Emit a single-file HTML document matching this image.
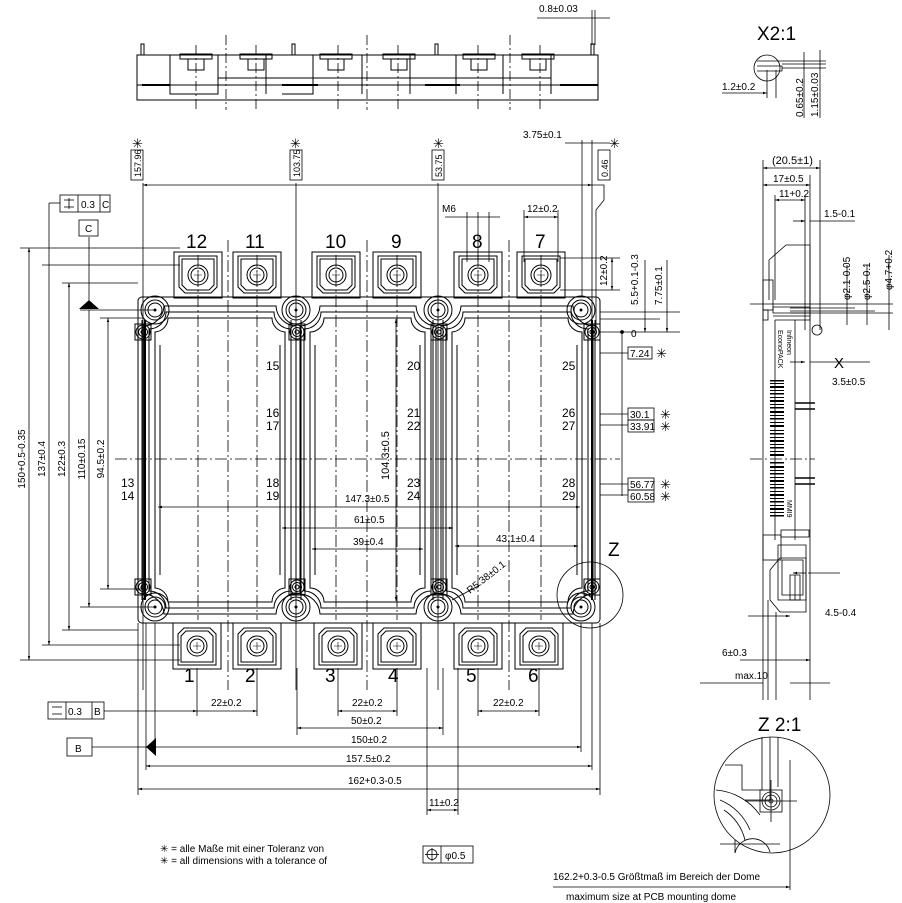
<!DOCTYPE html>
<html><head><meta charset="utf-8"><style>
html,body{margin:0;padding:0;background:#fff}
svg{display:block}
text{font-family:"Liberation Sans",sans-serif;fill:#000}
.s{font-size:10px}
.m{font-size:12px}
.b{font-size:19px;font-weight:300}
</style></head><body>
<svg width="902" height="903" viewBox="0 0 902 903" xmlns="http://www.w3.org/2000/svg">
<defs>
<g id="term" fill="none" stroke="#000" stroke-width="1">
<rect x="-24" y="-23" width="48" height="46"/>
<path d="M-19,-19 H19 V12 L13,18 H-13 L-19,12 Z"/>
<path d="M-16,-16 H16 V10 L11,15 H-11 L-16,10 Z"/>
<circle r="10"/><circle r="7"/>
<path d="M-4,0 H4 M0,-4 V4" stroke-width="0.6"/>
</g>
<g id="bh" fill="none" stroke="#000">
<circle r="14"/><circle r="10"/><circle r="7"/>
<circle r="1" fill="#000"/>
</g>
<g id="sh" fill="none" stroke="#000">
<rect x="-8" y="-8" width="16" height="16"/>
<circle r="7"/><circle r="4.5"/><circle r="2"/>
</g>
<marker id="a" viewBox="0 0 10 10" refX="10" refY="5" markerWidth="7" markerHeight="5" orient="auto-start-reverse"><path d="M0,2 L10,5 L0,8 Z" fill="#000"/></marker>
</defs>

<!-- TOP SIDE VIEW -->
<g fill="none" stroke="#000" stroke-width="1">
<rect x="137" y="55" width="461" height="45"/>
<line x1="137" y1="85" x2="598" y2="85"/>
<rect x="141" y="44" width="3" height="11"/><rect x="292" y="44" width="3" height="11"/><rect x="435" y="44" width="3" height="11"/><rect x="591" y="44" width="3" height="11"/>
<path d="M170,55 V94 H218 V55 M218,78 H266 V94 M266,55 V94 M266,78 H313 V94 H282 M313,55 V94 M313,78 H362 V94 M362,55 V94 M362,78 H410 V94 M410,55 V94 M410,78 H456 V94 M456,55 V94 M456,78 H503 V94 M503,55 V94 M503,78 H551 V94 M551,55 V94"/>
<path d="M180,54 H212 V59 H180 Z M188,59 V70 H204 V59"/>
<path d="M240,54 H272 V59 H240 Z M248,59 V70 H264 V59"/>
<path d="M320,54 H352 V59 H320 Z M328,59 V70 H344 V59"/>
<path d="M383,54 H415 V59 H383 Z M391,59 V70 H407 V59"/>
<path d="M463,54 H495 V59 H463 Z M471,59 V70 H487 V59"/>
<path d="M522,54 H554 V59 H522 Z M530,59 V70 H546 V59"/>
<path d="M142,85 H170 M282,85 H318 M425,85 H460 M560,85 H598" stroke-width="2"/>
</g>
<g stroke="#000" stroke-dasharray="10,3,2,3" stroke-width="0.8">
<line x1="226" y1="35" x2="226" y2="110"/><line x1="367" y1="35" x2="367" y2="110"/><line x1="510" y1="35" x2="510" y2="110"/>
<line x1="196" y1="45" x2="196" y2="110"/><line x1="256" y1="45" x2="256" y2="110"/><line x1="338" y1="45" x2="338" y2="110"/><line x1="398" y1="45" x2="398" y2="110"/><line x1="478" y1="45" x2="478" y2="110"/><line x1="540" y1="45" x2="540" y2="110"/>
</g>
<text x="539" y="12" class="s">0.8±0.03</text>
<line x1="537" y1="18" x2="610" y2="18" stroke="#000" stroke-width="0.8"/>
<line x1="592" y1="10" x2="592" y2="45" stroke="#000" stroke-width="0.8"/><line x1="595" y1="10" x2="595" y2="45" stroke="#000" stroke-width="0.8"/>

<!-- MAIN BODY -->
<g fill="none" stroke="#000" stroke-width="1">
<rect x="138" y="297" width="462" height="326" rx="4"/>
<line x1="291" y1="320" x2="291" y2="600"/><line x1="301" y1="320" x2="301" y2="600"/>
<line x1="433" y1="320" x2="433" y2="600"/><line x1="443" y1="320" x2="443" y2="600"/>
<line x1="142" y1="320" x2="142" y2="600"/><line x1="145" y1="320" x2="145" y2="600" stroke-width="2"/>
<line x1="595" y1="320" x2="595" y2="600"/><line x1="592" y1="320" x2="592" y2="600" stroke-width="2"/>
<!-- window 1 -->
<path d="M168,318 H272 A14,14 0 0 0 285,332 V588 A14,14 0 0 0 272,602 H168 A14,14 0 0 0 155,588 V332 A14,14 0 0 0 168,318 Z"/>
<path d="M166,312 H274 A17,17 0 0 0 291,329 V591 A17,17 0 0 0 274,608 H166 A17,17 0 0 0 149,591 V329 A17,17 0 0 0 166,312 Z"/>
<path d="M164,306 H276 A21,21 0 0 0 296,326 V594 A21,21 0 0 0 276,614 H164 A21,21 0 0 0 144,594 V326 A21,21 0 0 0 164,306 Z"/>
<path d="M160,345 V575 M280,345 V575"/>
<!-- window 2 -->
<path d="M324,318 H411 A14,14 0 0 0 425,332 V588 A14,14 0 0 0 411,602 H324 A14,14 0 0 0 310,588 V332 A14,14 0 0 0 324,318 Z"/>
<path d="M321,312 H414 A17,17 0 0 0 431,329 V591 A17,17 0 0 0 414,608 H321 A17,17 0 0 0 304,591 V329 A17,17 0 0 0 321,312 Z"/>
<path d="M320,306 H416 A21,21 0 0 0 436,326 V594 A21,21 0 0 0 416,614 H320 A21,21 0 0 0 300,594 V326 A21,21 0 0 0 320,306 Z"/>
<path d="M315,345 V575 M420,345 V575"/>
<!-- window 3 -->
<path d="M465,318 H568 A14,14 0 0 0 582,332 V588 A14,14 0 0 0 568,602 H465 A14,14 0 0 0 452,588 V332 A14,14 0 0 0 465,318 Z"/>
<path d="M463,312 H571 A17,17 0 0 0 588,329 V591 A17,17 0 0 0 571,608 H463 A17,17 0 0 0 446,591 V329 A17,17 0 0 0 463,312 Z"/>
<path d="M461,306 H573 A21,21 0 0 0 593,326 V594 A21,21 0 0 0 573,614 H461 A21,21 0 0 0 441,594 V326 A21,21 0 0 0 461,306 Z"/>
<path d="M457,345 V575 M577,345 V575"/>
</g>
<use href="#bh" x="155" y="310"/><use href="#bh" x="296" y="310"/><use href="#bh" x="438" y="310"/><use href="#bh" x="581" y="310"/>
<use href="#bh" x="155" y="607"/><use href="#bh" x="296" y="607"/><use href="#bh" x="438" y="607"/><use href="#bh" x="581" y="607"/>
<use href="#sh" x="143" y="332"/><use href="#sh" x="297" y="332"/><use href="#sh" x="439" y="332"/><use href="#sh" x="592" y="332"/>
<use href="#sh" x="143" y="587"/><use href="#sh" x="297" y="587"/><use href="#sh" x="439" y="587"/><use href="#sh" x="592" y="587"/>
<!-- terminals -->
<use href="#term" x="198" y="275"/><use href="#term" x="257" y="275"/><use href="#term" x="336" y="275"/><use href="#term" x="397" y="275"/><use href="#term" x="478" y="275"/><use href="#term" x="541" y="275"/>
<use href="#term" transform="translate(197,646) scale(1,-1)"/><use href="#term" transform="translate(257,646) scale(1,-1)"/><use href="#term" transform="translate(338,646) scale(1,-1)"/><use href="#term" transform="translate(397,646) scale(1,-1)"/><use href="#term" transform="translate(478,646) scale(1,-1)"/><use href="#term" transform="translate(539,646) scale(1,-1)"/>
<!-- centre lines -->
<g stroke="#000" stroke-dasharray="12,3,2,3" stroke-width="0.8">
<line x1="115" y1="459" x2="620" y2="459"/>
<line x1="228" y1="240" x2="228" y2="690"/><line x1="367" y1="240" x2="367" y2="690"/><line x1="509" y1="240" x2="509" y2="690"/>
<line x1="198" y1="255" x2="198" y2="620"/><line x1="257" y1="255" x2="257" y2="620"/><line x1="336" y1="255" x2="336" y2="620"/><line x1="397" y1="255" x2="397" y2="620"/><line x1="478" y1="255" x2="478" y2="620"/><line x1="541" y1="255" x2="541" y2="620"/>
</g>
<!-- pin labels -->
<g class="b"><text x="186" y="248" class="b">12</text><text x="245" y="248" class="b">11</text><text x="325" y="248" class="b">10</text><text x="391" y="248" class="b">9</text><text x="472" y="248" class="b">8</text><text x="535" y="248" class="b">7</text>
<text x="184" y="682" class="b">1</text><text x="245" y="682" class="b">2</text><text x="325" y="682" class="b">3</text><text x="388" y="682" class="b">4</text><text x="466" y="682" class="b">5</text><text x="528" y="682" class="b">6</text></g>
<g class="m">
<text x="266" y="370">15</text><text x="266" y="417">16</text><text x="266" y="430">17</text><text x="266" y="487">18</text><text x="266" y="500">19</text>
<text x="407" y="370">20</text><text x="407" y="417">21</text><text x="407" y="430">22</text><text x="407" y="487">23</text><text x="407" y="500">24</text>
<text x="562" y="370">25</text><text x="562" y="417">26</text><text x="562" y="430">27</text><text x="562" y="487">28</text><text x="562" y="500">29</text>
<text x="121" y="487">13</text><text x="121" y="500">14</text>
</g>
<!-- internal dims -->
<g stroke="#000" stroke-width="0.8" fill="none">
<line x1="158" y1="507" x2="580" y2="507" marker-start="url(#a)" marker-end="url(#a)"/>
<line x1="282" y1="528" x2="453" y2="528" marker-start="url(#a)" marker-end="url(#a)"/>
<line x1="312" y1="549" x2="423" y2="549" marker-start="url(#a)" marker-end="url(#a)"/>
<line x1="455" y1="546" x2="578" y2="546" marker-start="url(#a)" marker-end="url(#a)"/>
<line x1="396" y1="319" x2="396" y2="601" marker-start="url(#a)" marker-end="url(#a)"/>
<line x1="452" y1="600" x2="480" y2="585"/>
</g>
<g class="s"><text x="345" y="502">147.3±0.5</text><text x="354" y="523">61±0.5</text><text x="353" y="545">39±0.4</text><text x="496" y="542">43.1±0.4</text>
<text transform="translate(389,480) rotate(-90)" font-size="11">104.3±0.5</text>
<text transform="translate(470,594) rotate(-38)">R5.38±0.1</text></g>
<circle cx="590" cy="595" r="33" fill="none" stroke="#000" stroke-width="0.8"/>
<text x="608" y="556" class="b" font-size="17">Z</text>

<!-- top datum dims -->
<g stroke="#000" stroke-width="0.8" fill="none">
<line x1="143" y1="183" x2="143" y2="690"/><line x1="296" y1="183" x2="296" y2="690"/><line x1="438" y1="183" x2="438" y2="690"/>
<line x1="143" y1="185" x2="592" y2="185" marker-start="url(#a)" marker-end="url(#a)"/>
<line x1="582" y1="140" x2="582" y2="297"/><line x1="592" y1="140" x2="592" y2="330"/>
<line x1="565" y1="143" x2="610" y2="143"/>
<path d="M592,185 H604 V200 L596,210 V330"/>
<rect x="131" y="150" width="12" height="30"/><rect x="290" y="150" width="12" height="30"/><rect x="432" y="150" width="12" height="30"/><rect x="598" y="150" width="12" height="30"/>
<line x1="478" y1="212" x2="478" y2="262"/><line x1="467" y1="212" x2="467" y2="262"/><line x1="489" y1="212" x2="489" y2="262"/>
<line x1="445" y1="217" x2="500" y2="217"/>
<line x1="524" y1="217" x2="558" y2="217" marker-start="url(#a)" marker-end="url(#a)"/>
<line x1="524" y1="210" x2="524" y2="262"/><line x1="558" y1="210" x2="558" y2="262"/>
</g>
<g class="s">
<text transform="translate(141,177) rotate(-90)" font-size="9">157.96</text><text transform="translate(300,177) rotate(-90)" font-size="9">103.75</text><text transform="translate(442,177) rotate(-90)" font-size="9">53.75</text><text transform="translate(608,177) rotate(-90)" font-size="9">0.46</text>
<text x="523" y="138">3.75±0.1</text><text x="442" y="212">M6</text><text x="527" y="212">12±0.2</text>
</g>
<g font-size="13"><text x="132" y="148">✳</text><text x="290" y="148">✳</text><text x="433" y="148">✳</text><text x="609" y="148">✳</text></g>
<!-- right of body dims -->
<g stroke="#000" stroke-width="0.8" fill="none">
<line x1="560" y1="258" x2="620" y2="258"/><line x1="560" y1="290" x2="620" y2="290"/>
<line x1="612" y1="258" x2="612" y2="290" marker-start="url(#a)" marker-end="url(#a)"/>
<line x1="600" y1="312" x2="680" y2="312"/><line x1="600" y1="319" x2="660" y2="319"/><line x1="600" y1="332" x2="680" y2="332"/>
<line x1="645" y1="260" x2="645" y2="332" marker-end="url(#a)"/>
<line x1="667" y1="260" x2="667" y2="332" marker-end="url(#a)"/>
<line x1="622" y1="332" x2="622" y2="496"/><circle cx="622" cy="332" r="1.5" fill="#000"/>
<line x1="600" y1="353" x2="628" y2="353"/><line x1="600" y1="414" x2="628" y2="414"/><line x1="600" y1="425" x2="628" y2="425"/><line x1="600" y1="484" x2="628" y2="484"/><line x1="600" y1="495" x2="628" y2="495"/>
<rect x="628" y="347" width="24" height="12"/><rect x="628" y="408" width="26" height="12"/><rect x="628" y="420" width="26" height="12"/><rect x="628" y="478" width="26" height="12"/><rect x="628" y="490" width="26" height="12"/>
</g>
<g class="s">
<text transform="translate(607,286) rotate(-90)">12±0.2</text><text transform="translate(638,305) rotate(-90)">5.5+0.1-0.3</text><text transform="translate(662,305) rotate(-90)">7.75±0.1</text>
<text x="630" y="357">7.24</text><text x="630" y="418">30.1</text><text x="630" y="430">33.91</text><text x="630" y="488">56.77</text><text x="630" y="500">60.58</text>
<text x="631" y="337">0</text>
</g>
<g font-size="13"><text x="656" y="358">✳</text><text x="660" y="419">✳</text><text x="660" y="431">✳</text><text x="660" y="489">✳</text><text x="660" y="501">✳</text></g>

<!-- LEFT DIMS -->
<g stroke="#000" stroke-width="0.8" fill="none">
<line x1="20" y1="248" x2="180" y2="248"/><line x1="20" y1="660" x2="180" y2="660"/>
<line x1="29" y1="248" x2="29" y2="660" marker-start="url(#a)" marker-end="url(#a)"/>
<line x1="42" y1="265" x2="180" y2="265"/><line x1="42" y1="645" x2="180" y2="645"/>
<line x1="49" y1="203" x2="49" y2="645" marker-end="url(#a)"/><path d="M49,203 H60"/>
<line x1="62" y1="283" x2="138" y2="283"/><line x1="62" y1="630" x2="138" y2="630"/>
<line x1="69" y1="283" x2="69" y2="630" marker-start="url(#a)" marker-end="url(#a)"/>
<line x1="80" y1="310" x2="155" y2="310"/><line x1="80" y1="607" x2="155" y2="607"/>
<line x1="89" y1="310" x2="89" y2="607" marker-end="url(#a)"/>
<line x1="89" y1="237" x2="89" y2="300"/>
<line x1="100" y1="318" x2="143" y2="318"/><line x1="100" y1="589" x2="143" y2="589"/>
<line x1="108" y1="318" x2="108" y2="589" marker-start="url(#a)" marker-end="url(#a)"/>
<rect x="60" y="195" width="50" height="17"/><line x1="78" y1="195" x2="78" y2="212"/><line x1="100" y1="195" x2="100" y2="212"/>
<line x1="64" y1="200" x2="74" y2="200"/><line x1="64" y1="207" x2="74" y2="207"/><line x1="69" y1="198" x2="69" y2="209"/>
<rect x="79" y="220" width="19" height="16"/>
</g>
<path d="M79,309 L99,309 L89,300 Z" fill="#000"/>
<g class="s" font-size="9" text-anchor="middle">
<text x="81" y="208" text-anchor="start" font-size="10">0.3</text><text x="102" y="208" text-anchor="start" font-size="10">C</text><text x="85" y="232" text-anchor="start" font-size="10">C</text>
<text transform="translate(25,459) rotate(-90)">150+0.5-0.35</text>
<text transform="translate(45,459) rotate(-90)">137±0.4</text>
<text transform="translate(65,459) rotate(-90)">122±0.3</text>
<text transform="translate(85,459) rotate(-90)">110±0.15</text>
<text transform="translate(104,459) rotate(-90)">94.5±0.2</text>
</g>

<!-- BOTTOM DIMS -->
<g stroke="#000" stroke-width="0.8" fill="none">
<line x1="138" y1="623" x2="138" y2="795"/><line x1="146" y1="623" x2="146" y2="770"/><line x1="155" y1="623" x2="155" y2="752"/>
<line x1="600" y1="623" x2="600" y2="795"/><line x1="592" y1="623" x2="592" y2="770"/><line x1="581" y1="623" x2="581" y2="752"/>
<line x1="197" y1="668" x2="197" y2="716"/><line x1="257" y1="668" x2="257" y2="716"/><line x1="338" y1="668" x2="338" y2="716"/><line x1="397" y1="668" x2="397" y2="716"/><line x1="478" y1="668" x2="478" y2="716"/><line x1="539" y1="668" x2="539" y2="716"/>
<line x1="297" y1="668" x2="297" y2="735"/><line x1="443" y1="668" x2="443" y2="735"/>
<line x1="427" y1="668" x2="427" y2="815"/><line x1="458" y1="668" x2="458" y2="815"/>
<line x1="104" y1="711" x2="197" y2="711" marker-end="url(#a)"/>
<line x1="197" y1="711" x2="257" y2="711" marker-end="url(#a)"/>
<line x1="338" y1="711" x2="397" y2="711" marker-start="url(#a)" marker-end="url(#a)"/>
<line x1="478" y1="711" x2="539" y2="711" marker-start="url(#a)" marker-end="url(#a)"/>
<line x1="297" y1="728" x2="443" y2="728" marker-start="url(#a)" marker-end="url(#a)"/>
<line x1="92" y1="747" x2="148" y2="747"/>
<line x1="155" y1="747" x2="581" y2="747" marker-end="url(#a)"/>
<line x1="146" y1="766" x2="592" y2="766" marker-start="url(#a)" marker-end="url(#a)"/>
<line x1="138" y1="789" x2="600" y2="789" marker-start="url(#a)" marker-end="url(#a)"/>
<line x1="427" y1="810" x2="458" y2="810" marker-start="url(#a)" marker-end="url(#a)"/>
<rect x="48" y="702" width="56" height="17"/><line x1="66" y1="702" x2="66" y2="719"/><line x1="92" y1="702" x2="92" y2="719"/>
<line x1="52" y1="707" x2="62" y2="707"/><line x1="52" y1="714" x2="62" y2="714"/>
<rect x="67" y="738" width="25" height="18"/>
</g>
<path d="M146,747 L156,738 L156,756 Z" fill="#000"/>
<g class="s">
<text x="68" y="715">0.3</text><text x="94" y="715">B</text><text x="75" y="752">B</text>
<text x="211" y="706">22±0.2</text><text x="352" y="706">22±0.2</text><text x="493" y="706">22±0.2</text>
<text x="351" y="724">50±0.2</text><text x="351" y="743">150±0.2</text><text x="346" y="762">157.5±0.2</text><text x="348" y="784">162+0.3-0.5</text><text x="429" y="806">11±0.2</text>
</g>
<g class="s" font-size="11">
<text x="160" y="852">✳ = alle Maße mit einer Toleranz von</text>
<text x="160" y="864">✳ = all dimensions with a tolerance of</text>
</g>
<g stroke="#000" stroke-width="0.8" fill="none"><rect x="423" y="846" width="50" height="17"/><line x1="441" y1="846" x2="441" y2="863"/><circle cx="432" cy="854.5" r="5"/><line x1="425" y1="854.5" x2="439" y2="854.5"/><line x1="432" y1="848" x2="432" y2="861"/></g>
<text x="445" y="859" class="s">φ0.5</text>
<text x="553" y="880" class="s" font-size="11">162.2+0.3-0.5 Größtmaß im Bereich der Dome</text>
<text x="566" y="900" class="s" font-size="11">maximum size at PCB mounting dome</text>
<g stroke="#000" stroke-width="0.8" fill="none">
<line x1="553" y1="887" x2="790" y2="887" marker-end="url(#a)"/><line x1="790" y1="760" x2="790" y2="890"/>
<circle cx="772" cy="795" r="58"/>
<path d="M762,737 V790 H742 V765 H725 M770,737 V800 H745 M778,737 V787"/>
<rect x="760" y="790" width="22" height="22"/><circle cx="771" cy="801" r="9"/><circle cx="771" cy="801" r="6"/><circle cx="771" cy="801" r="2"/>
<path d="M716,790 A60,60 0 0 1 760,815 M720,800 A55,55 0 0 1 750,830 M724,810 A50,50 0 0 1 745,840 M735,853 A18,18 0 0 1 770,852"/>
<path d="M745,801 H797 M771,780 V822 M735,840 V853 M720,844 H780"/>
</g>
<text x="758" y="731" class="b" font-size="15">Z 2:1</text>

<!-- X detail -->
<text x="757" y="40" class="b" font-size="15">X2:1</text>
<g stroke="#000" stroke-width="0.8" fill="none">
<circle cx="767" cy="68" r="13"/>
<path d="M757,61 H826 M757,66 H782 V71 H757 M782,64 H826 M782,68 H826"/>
<line x1="722" y1="93" x2="767" y2="93" marker-end="url(#a)"/>
<line x1="767" y1="70" x2="767" y2="98"/><line x1="776" y1="70" x2="776" y2="98"/>
<line x1="804" y1="52" x2="804" y2="118"/><line x1="820" y1="50" x2="820" y2="118"/>
</g>
<g class="s"><text x="722" y="90">1.2±0.2</text><text transform="translate(803,117) rotate(-90)">0.65±0.2</text><text transform="translate(818,117) rotate(-90)">1.15±0.03</text></g>

<!-- RIGHT SIDE VIEW -->
<g stroke="#000" stroke-width="0.8" fill="none">
<line x1="763" y1="160" x2="763" y2="700"/><line x1="820" y1="160" x2="820" y2="330"/><line x1="810" y1="175" x2="810" y2="700"/>
<line x1="763" y1="168" x2="820" y2="168" marker-start="url(#a)" marker-end="url(#a)"/>
<line x1="763" y1="185" x2="810" y2="185" marker-start="url(#a)" marker-end="url(#a)"/>
<line x1="775" y1="200" x2="805" y2="200" marker-start="url(#a)" marker-end="url(#a)"/>
<line x1="775" y1="195" x2="775" y2="300"/><line x1="805" y1="195" x2="805" y2="330"/>
<line x1="793" y1="221" x2="805" y2="221" marker-end="url(#a)"/><line x1="810" y1="221" x2="855" y2="221"/>
<rect x="763" y="280" width="10" height="30"/><rect x="763" y="310" width="5" height="10"/>
<path d="M769,300 V260 L786,245 H810 V320 H775"/>
<path d="M773,307 H810 V313 H773 Z M773,313 H810 V316 H773"/>
<line x1="750" y1="304" x2="893" y2="304"/><line x1="790" y1="308" x2="855" y2="308"/><line x1="790" y1="311" x2="875" y2="311"/><line x1="790" y1="313" x2="893" y2="313"/>
<line x1="847" y1="265" x2="847" y2="325"/><line x1="867" y1="265" x2="867" y2="325"/><line x1="889" y1="255" x2="889" y2="330"/>
<circle cx="817" cy="330" r="5"/>
<line x1="810" y1="362" x2="870" y2="362"/><line x1="790" y1="362" x2="805" y2="362" marker-end="url(#a)"/>
<line x1="775" y1="320" x2="775" y2="540"/><line x1="795" y1="320" x2="795" y2="540"/>
<rect x="763" y="535" width="18" height="25"/><rect x="781" y="530" width="28" height="7"/>
<path d="M778,545 H806 V600 H778 Z M782,560 H803 V595 H782 Z"/>
<line x1="808" y1="573" x2="840" y2="573"/><line x1="793" y1="573" x2="806" y2="573" marker-start="url(#a)"/>
<path d="M770,570 L780,558 H806 V612 H780 L770,600 Z"/>
<path d="M790,575 H800 V600 H790 Z M795,575 V600"/>
<line x1="748" y1="616" x2="790" y2="616" marker-end="url(#a)"/>
<line x1="768" y1="600" x2="768" y2="700"/><line x1="776" y1="612" x2="776" y2="700"/>
<line x1="740" y1="660" x2="810" y2="660" marker-end="url(#a)"/><line x1="700" y1="683" x2="763" y2="683"/><line x1="790" y1="683" x2="830" y2="683"/>
<line x1="750" y1="459" x2="815" y2="459" stroke-dasharray="12,3,2,3"/>
<path d="M795,403 H815 M795,409 H815 M795,478 H815 M795,484 H815" stroke-width="1.5"/>
</g>
<!-- barcode -->
<g fill="#000">
<rect x="770" y="380" width="14" height="1.5"/><rect x="770" y="383" width="14" height="1"/><rect x="770" y="386" width="14" height="2"/><rect x="770" y="390" width="14" height="1"/><rect x="770" y="393" width="14" height="1.5"/><rect x="770" y="397" width="14" height="1"/><rect x="770" y="400" width="14" height="2"/><rect x="770" y="404" width="14" height="1"/><rect x="770" y="407" width="14" height="1.5"/><rect x="770" y="411" width="14" height="2"/><rect x="770" y="415" width="14" height="1"/><rect x="770" y="418" width="14" height="1.5"/><rect x="770" y="422" width="14" height="1"/><rect x="770" y="425" width="14" height="2"/><rect x="770" y="430" width="14" height="1"/><rect x="770" y="433" width="14" height="1.5"/><rect x="770" y="437" width="14" height="1"/><rect x="770" y="440" width="14" height="2"/><rect x="770" y="444" width="14" height="1"/><rect x="770" y="447" width="14" height="1.5"/><rect x="770" y="451" width="14" height="1"/><rect x="770" y="454" width="14" height="2"/><rect x="770" y="462" width="14" height="1.5"/><rect x="770" y="466" width="14" height="2"/><rect x="770" y="470" width="14" height="1"/><rect x="770" y="473" width="14" height="1.5"/><rect x="770" y="477" width="14" height="1"/><rect x="770" y="480" width="14" height="2"/><rect x="770" y="484" width="14" height="1"/><rect x="770" y="487" width="14" height="1.5"/><rect x="770" y="491" width="14" height="1"/><rect x="770" y="494" width="14" height="2"/><rect x="770" y="498" width="14" height="1"/><rect x="770" y="501" width="14" height="1.5"/><rect x="770" y="505" width="14" height="1"/><rect x="770" y="508" width="14" height="2"/><rect x="770" y="512" width="14" height="1"/><rect x="770" y="515" width="14" height="1.5"/>
</g>
<g font-size="7"><text transform="translate(778,330) rotate(90)">EconoPACK</text><text transform="translate(787,330) rotate(90)">Infineon</text><text transform="translate(787,500) rotate(90)">MMI9</text></g>
<g class="s">
<text x="772" y="164" font-size="11">(20.5±1)</text><text x="773" y="182">17±0.5</text><text x="779" y="197">11+0.2</text><text x="824" y="217">1.5-0.1</text>
<text transform="translate(850,300) rotate(-90)">φ2.1-0.05</text><text transform="translate(870,300) rotate(-90)">φ2.5-0.1</text><text transform="translate(892,290) rotate(-90)">φ4.7+0.2</text>
<text x="832" y="385">3.5±0.5</text><text x="825" y="616">4.5-0.4</text><text x="722" y="656">6±0.3</text><text x="735" y="679">max.10</text>
</g>
<text x="834" y="368" font-size="15">X</text>
</svg>
</body></html>
